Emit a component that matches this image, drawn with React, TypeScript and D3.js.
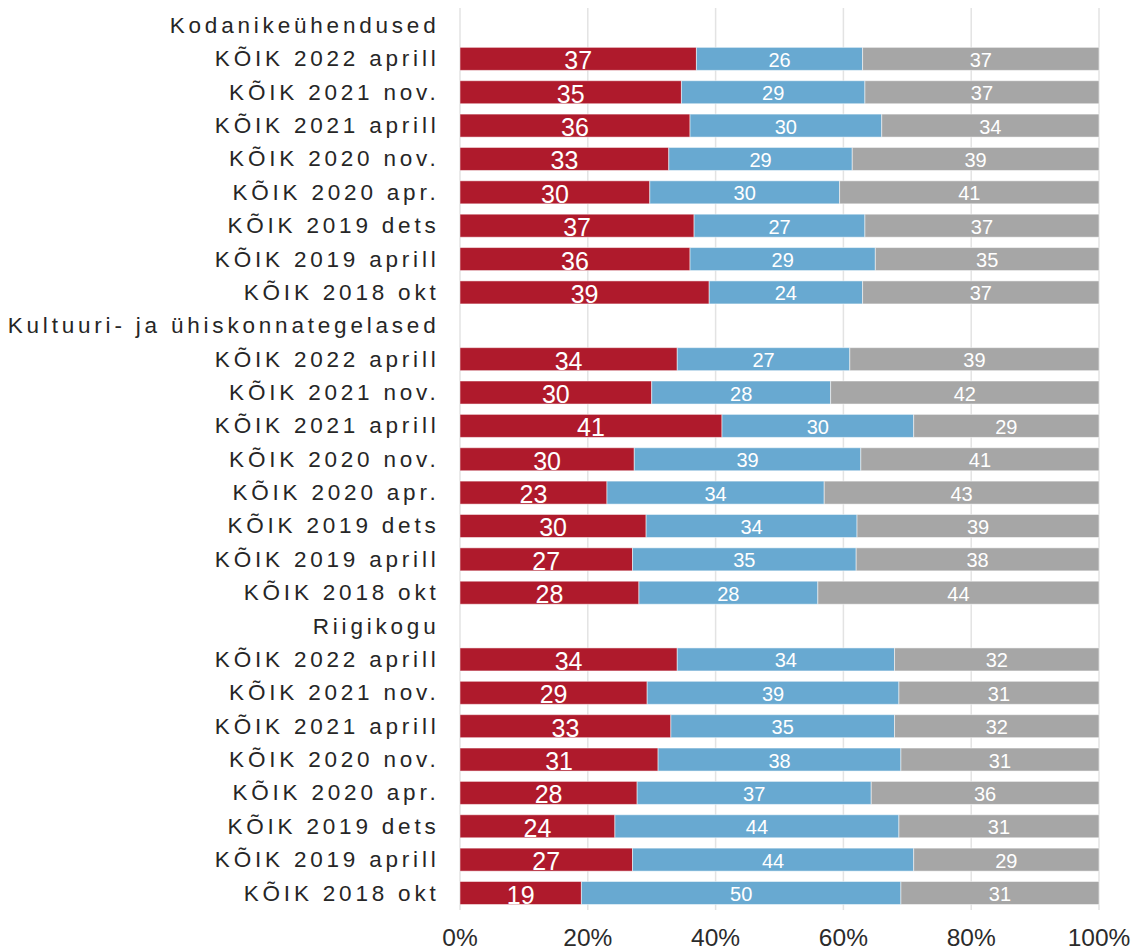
import React from "react";
import * as d3 from "d3";

const groups = ["Kodanikeühendused", "Kultuuri- ja ühiskonnategelased", "Riigikogu"];
const periods = [
  "KÕIK 2022 aprill",
  "KÕIK 2021 nov.",
  "KÕIK 2021 aprill",
  "KÕIK 2020 nov.",
  "KÕIK 2020 apr.",
  "KÕIK 2019 dets",
  "KÕIK 2019 aprill",
  "KÕIK 2018 okt",
];
// values per group, in period order
const redValues = [
  [37, 35, 36, 33, 30, 37, 36, 39],
  [34, 30, 41, 30, 23, 30, 27, 28],
  [34, 29, 33, 31, 28, 24, 27, 19],
];
const blueValues = [
  [26, 29, 30, 29, 30, 27, 29, 24],
  [27, 28, 30, 39, 34, 34, 35, 28],
  [34, 39, 35, 38, 37, 44, 44, 50],
];
const grayValues = [
  [37, 37, 34, 39, 41, 37, 35, 37],
  [39, 42, 29, 41, 43, 39, 38, 44],
  [32, 31, 32, 31, 36, 31, 29, 31],
];
const xTicks = [0, 20, 40, 60, 80, 100];

const COLORS = ["#AF1A2C", "#68A9D1", "#A6A6A6"];

type Row = { key: string; label: string; header: boolean; vals?: number[] };

export default function App() {
  const rows: Row[] = [];
  groups.forEach((g, gi) => {
    rows.push({ key: `h${gi}`, label: g, header: true });
    periods.forEach((p, pi) => {
      rows.push({
        key: `r${gi}-${pi}`,
        label: p,
        header: false,
        vals: [redValues[gi][pi], blueValues[gi][pi], grayValues[gi][pi]],
      });
    });
  });

  const step = (893 - 25.5) / (rows.length - 1);
  const y = d3
    .scaleBand<string>()
    .domain(rows.map((r) => r.key))
    .range([25.5 - step / 2, 893 + step / 2])
    .paddingInner(0.31)
    .paddingOuter(0.155);
  const x = d3.scaleLinear().domain([0, 100]).range([460, 1099]);

  const narrow = "'Liberation Sans Narrow', 'Arial Narrow', 'Liberation Sans', Arial, sans-serif";

  return (
    <svg
      width={1136}
      height={952}
      style={{ position: "absolute", left: 0, top: 0 }}
      fontFamily="'Liberation Sans', Arial, sans-serif"
    >
      <rect width={1136} height={952} fill="#fff" />
      {xTicks.map((t) => (
        <g key={t}>
          <line x1={x(t)} x2={x(t)} y1={8} y2={910} stroke="#e3e3e3" strokeWidth={1.5} />
          <text
            x={x(t)}
            y={946}
            textAnchor="middle"
            fontFamily={narrow}
            fontSize={24.5}
            fill="#2b2b2b"
          >
            {t}%
          </text>
        </g>
      ))}
      {rows.map((r) => {
        const yc = (y(r.key) as number) + y.bandwidth() / 2;
        const label = (
          <text
            key={r.key + "l"}
            x={439.5}
            y={yc}
            textAnchor="end"
            dominantBaseline="central"
            fontSize={22.5}
            letterSpacing={3.8}
            fill="#262626"
          >
            {r.label}
          </text>
        );
        if (r.header || !r.vals) return label;
        const total = d3.sum(r.vals);
        let cum = 0;
        const segs = r.vals.map((v, i) => {
          const x0 = x((cum / total) * 100);
          cum += v;
          const x1 = x((cum / total) * 100);
          return { v, i, x0, x1 };
        });
        return (
          <g key={r.key}>
            {label}
            {segs.map((s) => (
              <rect
                key={s.i}
                x={s.x0}
                y={y(r.key)}
                width={s.x1 - s.x0}
                height={y.bandwidth()}
                fill={COLORS[s.i]}
                stroke="#ffffff"
                strokeOpacity={0.5}
                strokeWidth={1}
              />
            ))}
            {segs.map((s) => (
              <text
                key={"t" + s.i}
                x={(s.x0 + s.x1) / 2}
                y={yc + (s.i === 0 ? 1.5 : 1)}
                textAnchor="middle"
                dominantBaseline="central"
                fontFamily={narrow}
                fontSize={s.i === 0 ? 25 : 20}
                fill="#fff"
              >
                {s.v}
              </text>
            ))}
          </g>
        );
      })}
    </svg>
  );
}
